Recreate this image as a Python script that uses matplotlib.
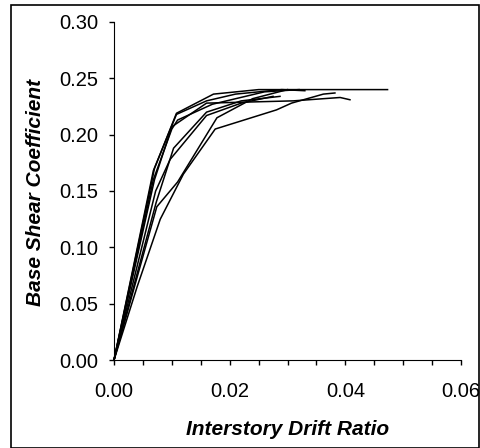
import matplotlib
matplotlib.use('Agg')
import matplotlib.pyplot as plt
from matplotlib.ticker import MultipleLocator
from matplotlib.patches import Rectangle

plt.rcParams['font.family'] = ['Liberation Sans', 'DejaVu Sans']

# pushover curves: (drift ratio, base shear coefficient)
drift_1 = [0, 0.0070, 0.0108, 0.0172, 0.0250, 0.0473]
shear_1 = [0, 0.170, 0.219, 0.236, 0.240, 0.240]
drift_2 = [0, 0.0068, 0.0108, 0.0160, 0.0210, 0.0290, 0.0330]
shear_2 = [0, 0.168, 0.218, 0.230, 0.236, 0.240, 0.239]
drift_3 = [0, 0.0070, 0.0100, 0.0160, 0.0310, 0.0391, 0.0408]
shear_3 = [0, 0.160, 0.207, 0.228, 0.230, 0.233, 0.231]
drift_4 = [0, 0.0073, 0.0103, 0.0160, 0.0220, 0.0287]
shear_4 = [0, 0.140, 0.188, 0.220, 0.230, 0.234]
drift_5 = [0, 0.0040, 0.0080, 0.0120, 0.0175, 0.0281, 0.0307, 0.0362, 0.0382]
shear_5 = [0, 0.065, 0.125, 0.165, 0.205, 0.222, 0.228, 0.236, 0.237]
drift_6 = [0, 0.0074, 0.0110, 0.0178, 0.0240, 0.0300]
shear_6 = [0, 0.136, 0.158, 0.215, 0.232, 0.240]
drift_7 = [0, 0.0072, 0.0097, 0.0160, 0.0220, 0.0275]
shear_7 = [0, 0.150, 0.178, 0.217, 0.228, 0.234]
drift_8 = [0, 0.0068, 0.0100, 0.0110, 0.0170, 0.0260, 0.0320]
shear_8 = [0, 0.160, 0.205, 0.213, 0.227, 0.238, 0.240]

curves = [(drift_1, shear_1), (drift_2, shear_2), (drift_3, shear_3),
          (drift_4, shear_4), (drift_5, shear_5), (drift_6, shear_6),
          (drift_7, shear_7), (drift_8, shear_8)]

fig = plt.figure(figsize=(4.8, 4.48), dpi=100)
ax = fig.add_axes([114/480, 1 - 360/448, 347/480, 338/448])

for xs, ys in curves:
    ax.plot(xs, ys, color='black', lw=1.1, clip_on=False)

ax.set_xlim(0, 0.06)
ax.set_ylim(0, 0.30)
ax.xaxis.set_major_locator(MultipleLocator(0.02))
ax.xaxis.set_minor_locator(MultipleLocator(0.005))
ax.yaxis.set_major_locator(MultipleLocator(0.05))
ax.xaxis.set_major_formatter(plt.FormatStrFormatter('%.2f'))
ax.yaxis.set_major_formatter(plt.FormatStrFormatter('%.2f'))
ax.spines['top'].set_visible(False)
ax.spines['right'].set_visible(False)
ax.tick_params(axis='both', which='major', length=3.6, width=1, labelsize=14.5, direction='out')
ax.tick_params(axis='x', which='minor', length=3.6, width=1, direction='out')
ax.tick_params(axis='x', pad=12)
ax.tick_params(axis='y', pad=7.5)

ax.set_xlabel('Interstory Drift Ratio', fontsize=15, fontweight='bold', style='italic')
ax.set_ylabel('Base Shear Coefficient', fontsize=15, fontweight='bold', style='italic')
ax.xaxis.set_label_coords(0.5, -0.177)
ax.yaxis.set_label_coords(-0.198, 0.495)

# outer chart border
fig.patches.append(Rectangle((11/480, 0), 468/480, 443/448, transform=fig.transFigure,
                             fill=False, edgecolor='black', lw=1.2))

fig.savefig('out.png', dpi=100)
